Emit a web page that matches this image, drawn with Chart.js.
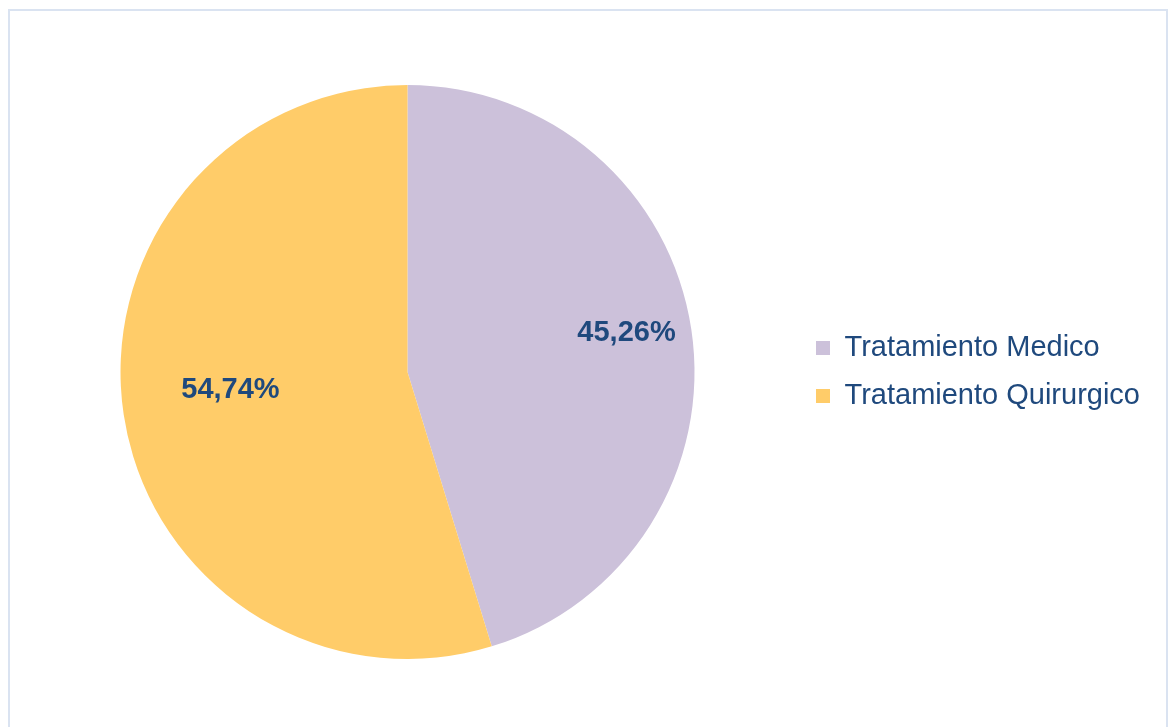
<!DOCTYPE html>
<html>
<head>
<meta charset="utf-8">
<script src="https://cdn.jsdelivr.net/npm/chart.js@4/dist/chart.umd.min.js"></script>
<style>
  html, body { margin: 0; padding: 0; background: #ffffff; overflow: hidden; }
  #wrap { position: relative; width: 1170px; height: 727px; }
  #frame { position: absolute; left: 8px; top: 9px; width: 1160px; height: 740px; border: 2px solid #dae3f1; box-sizing: border-box; pointer-events: none; }
  canvas { position: absolute; left: 0; top: 0; }
</style>
</head>
<body>
<div id="wrap">
  <canvas id="c" width="1170" height="727"></canvas>
  <div id="frame"></div>
</div>
<script>
const categories = ["Tratamiento Medico", "Tratamiento Quirurgico"];
const values = [45.26, 54.74];
const valueLabels = ["45,26%", "54,74%"];
const colors = ["#ccc1da", "#ffcc69"];

const textColor = "#1f497d";
const fontFamily = "'Liberation Sans', Arial, Helvetica, sans-serif";

const dataLabelPlugin = {
  id: 'dataLabelPlugin',
  afterDatasetsDraw(chart, args, opts) {
    const ctx = chart.ctx;
    const meta = chart.getDatasetMeta(0);
    ctx.save();
    ctx.font = "bold 29px " + fontFamily;
    ctx.fillStyle = textColor;
    ctx.textAlign = 'center';
    ctx.textBaseline = 'middle';
    meta.data.forEach((arc, i) => {
      const r = arc.outerRadius;
      const off = opts.offsets[i];
      const x = arc.x + off[0] * r;
      const y = arc.y + off[1] * r;
      ctx.fillText(valueLabels[i], x, y);
    });
    ctx.restore();
  }
};

new Chart(document.getElementById('c'), {
  type: 'pie',
  data: {
    labels: categories,
    datasets: [{
      data: values,
      backgroundColor: colors,
      borderWidth: 0
    }]
  },
  options: {
    responsive: false,
    animation: false,
    layout: { padding: { left: 18, right: 20, top: 85, bottom: 68 } },
    plugins: {
      tooltip: { enabled: false },
      legend: {
        position: 'right',
        labels: {
          boxWidth: 14,
          boxHeight: 14,
          padding: 19,
          color: textColor,
          font: { family: fontFamily, size: 29 }
        }
      },
      dataLabelPlugin: {
        offsets: [[0.763, -0.135], [-0.617, 0.062]]
      }
    }
  },
  plugins: [dataLabelPlugin]
});
</script>
</body>
</html>
